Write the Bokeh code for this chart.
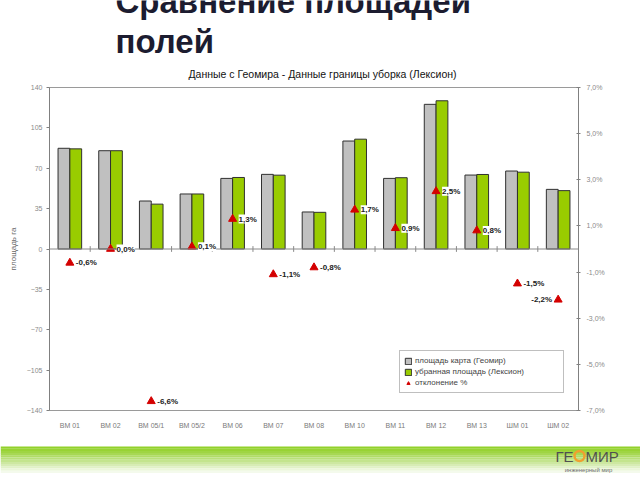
from bokeh.plotting import figure
from bokeh.layouts import column, row
from bokeh.models import (ColumnDataSource, Range1d, LinearAxis, FixedTicker, Span,
                          LabelSet, Legend, LegendItem, FactorRange)
from bokeh.transform import dodge
from bokeh.core.properties import value
from bokeh.embed import file_html
from bokeh.resources import INLINE

# ---- data ----
categories = ["ВМ 01", "ВМ 02", "ВМ 05/1", "ВМ 05/2", "ВМ 06", "ВМ 07", "ВМ 08",
              "ВМ 10", "ВМ 11", "ВМ 12", "ВМ 13", "ШМ 01", "ШМ 02"]
area_geomir = [87.3, 85.2, 41.6, 47.7, 61.2, 64.7, 32.1, 93.6, 61.2, 125.4, 64.1, 67.6, 51.7]
area_lexion = [86.8, 85.2, 38.9, 47.7, 62.0, 64.0, 31.8, 95.2, 61.8, 128.5, 64.6, 66.6, 50.6]
deviation = [-0.6, 0.0, -6.6, 0.1, 1.3, -1.1, -0.8, 1.7, 0.9, 2.5, 0.8, -1.5, -2.2]
deviation_labels = ["-0,6%", "0,0%", "-6,6%", "0,1%", "1,3%", "-1,1%", "-0,8%",
                    "1,7%", "0,9%", "2,5%", "0,8%", "-1,5%", "-2,2%"]
left_ticks = [-140, -105, -70, -35, 0, 35, 70, 105, 140]
right_ticks = [-7, -5, -3, -1, 1, 3, 5, 7]
right_tick_labels = ["-7,0%", "-5,0%", "-3,0%", "-1,0%", "1,0%", "3,0%", "5,0%", "7,0%"]

title_lines = ["Сравнение площадей", "полей"]
chart_title = "Данные с Геомира - Данные границы уборка (Лексион)"
y_label = "площадь га"
legend_labels = ["площадь карта (Геомир)", "убранная площадь (Лексион)", "отклонение %"]
logo_parts = ["ГЕ", "МИР"]
logo_sub = "инженерный мир"

FONT = "Liberation Sans"
W = 640


def blank(height, y0, y1):
    f = figure(width=W, height=height, x_range=Range1d(0, W), y_range=Range1d(y0, y1),
               x_axis_type=None, y_axis_type=None,
               output_backend="svg", toolbar_location=None,
               min_border=0, min_border_left=0, min_border_right=0,
               min_border_top=0, min_border_bottom=0,
               background_fill_color="white", border_fill_color="white")
    f.grid.visible = False
    f.outline_line_color = None
    return f


# ---- header (y measured downward in page pixels; text centred vertically) ----
head = blank(80, 80, 0)
head.text(x=[115, 115], y=[1, 41], text=title_lines, text_font=value(FONT),
          text_font_size="33px", text_font_style="bold", text_color="#1c1c30",
          text_baseline="middle")
head.text(x=[322], y=[73.5], text=[chart_title], text_font=value(FONT),
          text_font_size="10.5px", text_color="#111111", text_align="center",
          text_baseline="middle")

# ---- main chart ----
src = ColumnDataSource(dict(cat=categories, g=area_geomir, l=area_lexion,
                            d=deviation, dl=deviation_labels))
src_lbl = ColumnDataSource(dict(cat=categories[:-1], d=deviation[:-1],
                                dl=deviation_labels[:-1]))
src_lbl_end = ColumnDataSource(dict(cat=categories[-1:], d=deviation[-1:],
                                    dl=deviation_labels[-1:]))
bsrc = ColumnDataSource(dict(cat=categories[:-1]))

p = figure(width=W, height=360, x_range=FactorRange(*categories),
           y_range=Range1d(-140, 140), output_backend="svg", toolbar_location=None,
           min_border_left=49, min_border_right=62, min_border_top=7, min_border_bottom=30,
           background_fill_color="white", border_fill_color="white")
p.extra_y_ranges = {"pct": Range1d(-7, 7)}
p.xgrid.visible = False
p.ygrid.visible = False
p.outline_line_color = "#9a9a9a"
p.outline_line_width = 1

ya = p.yaxis[0]
ya.ticker = FixedTicker(ticks=left_ticks)
ya.major_tick_out = 3
ya.major_tick_in = 0
ya.minor_tick_line_color = None
ya.axis_line_color = "#808080"
ya.major_tick_line_color = "#808080"
ya.major_label_text_font_size = "7px"
ya.major_label_text_color = "#8a8a8a"
ya.major_label_text_font = FONT
ya.major_label_standoff = 4
ya.axis_label = y_label
ya.axis_label_text_font = FONT
ya.axis_label_text_font_size = "8px"
ya.axis_label_text_font_style = "normal"
ya.axis_label_text_color = "#666666"
ya.axis_label_standoff = 6

ra = LinearAxis(y_range_name="pct", ticker=FixedTicker(ticks=right_ticks),
                major_label_overrides={t: s for t, s in zip(right_ticks, right_tick_labels)})
ra.major_tick_out = 2
ra.major_tick_in = 2
ra.minor_tick_line_color = None
ra.axis_line_color = "#808080"
ra.major_tick_line_color = "#808080"
ra.major_label_text_font_size = "7px"
ra.major_label_text_color = "#8a8a8a"
ra.major_label_text_font = FONT
ra.major_label_standoff = 6
p.add_layout(ra, "right")

xa = p.xaxis[0]
xa.axis_line_color = None
xa.major_tick_line_color = None
xa.minor_tick_line_color = None
xa.major_label_text_font_size = "7px"
xa.major_label_text_color = "#7a7a7a"
xa.major_label_text_font = FONT
xa.major_label_standoff = 5

p.add_layout(Span(location=0, dimension="width", line_color="#8a8a8a", line_width=1))
p.segment(x0=dodge("cat", 0.5, range=p.x_range), y0=-2.5,
          x1=dodge("cat", 0.5, range=p.x_range), y1=2.5,
          source=bsrc, line_color="#8a8a8a", line_width=1)

r1 = p.vbar(x=dodge("cat", -0.145, range=p.x_range), top="g", bottom=0, width=0.29,
            source=src, fill_color="#c0c0c0", line_color="#303030", line_width=1)
r2 = p.vbar(x=dodge("cat", 0.145, range=p.x_range), top="l", bottom=0, width=0.29,
            source=src, fill_color="#99cc00", line_color="#303030", line_width=1)
r3 = p.scatter(x=dodge("cat", 0.0, range=p.x_range), y="d", y_range_name="pct",
               source=src, marker="triangle", size=8, fill_color="#d40000",
               line_color="#d40000")

lbl_style = dict(text_font=value(FONT), text_font_size="8px", text_font_style="bold",
                 text_color="#222222", text_baseline="middle",
                 background_fill_color="white")
p.add_layout(LabelSet(x=dodge("cat", 0.0, range=p.x_range), y="d", text="dl",
                      y_range_name="pct", source=src_lbl, x_offset=6, **lbl_style))
p.add_layout(LabelSet(x=dodge("cat", 0.0, range=p.x_range), y="d", text="dl",
                      y_range_name="pct", source=src_lbl_end, x_offset=-6,
                      text_align="right", **lbl_style))

legend = Legend(items=[LegendItem(label=legend_labels[0], renderers=[r1]),
                       LegendItem(label=legend_labels[1], renderers=[r2]),
                       LegendItem(label=legend_labels[2], renderers=[r3])],
                location=(350, 17), orientation="vertical",
                label_text_font=FONT, label_text_font_size="8px", label_text_color="#444444",
                glyph_width=8, glyph_height=8, label_height=11, spacing=0, padding=4,
                label_standoff=3, label_width=144, margin=0,
                border_line_color="#808080", border_line_width=1,
                background_fill_color="white", background_fill_alpha=1)
p.add_layout(legend)

# ---- footer (y measured downward in page pixels) ----
foot = blank(40, 480, 440)
band_colors = ["#92d12a", "#98d334", "#9fd543", "#a7d854", "#b0dc67", "#b9e07a",
               "#c3e48d", "#cde8a1", "#d7ecb4", "#e1f1c7", "#ebf6da", "#f4faec"]
band_top = [446 + 2.2 * i for i in range(len(band_colors))]
foot.quad(left=0, right=W, top=band_top, bottom=[t + 2.3 for t in band_top],
          fill_color=band_colors, line_color=None)
foot.text(x=[555, 585], y=[455.8, 455.8], text=logo_parts, text_font=value(FONT),
          text_font_size="15px", text_color="#505050", text_baseline="middle")
foot.scatter(x=[579], y=[455.5], marker="circle", size=10, fill_color=None,
             line_color="#f0a030", line_width=2.5)
foot.text(x=[588], y=[469], text=[logo_sub], text_font=value(FONT),
          text_font_size="6px", text_color="#707070", text_align="center",
          text_baseline="middle")

layout = column(row(head), p, row(foot), spacing=0)
open("out.html", "w").write(file_html(layout, INLINE))
